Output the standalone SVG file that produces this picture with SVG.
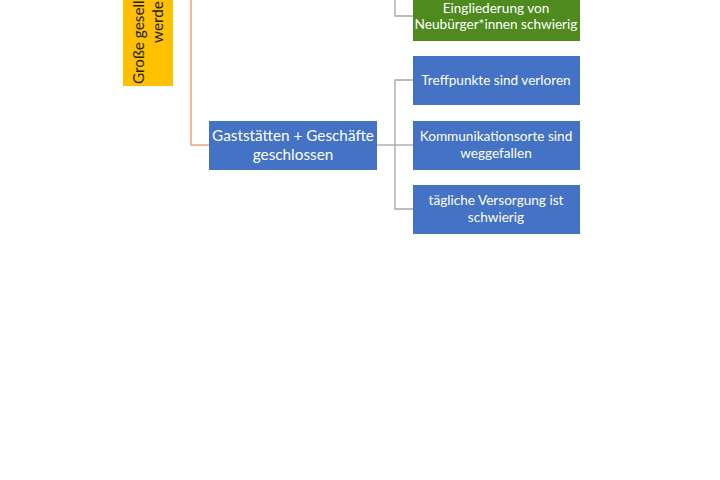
<svg xmlns="http://www.w3.org/2000/svg" width="720" height="480" viewBox="0 0 720 480">
<style>
.t{font-family:Lato,"Open Sans","Liberation Sans",sans-serif;fill:#fff;text-anchor:middle}
.s{font-size:13.6px}
.m{font-size:15.3px}
.g{stroke:#a6a6a6;stroke-width:1.3;fill:none}
.o{stroke:#f4a46e;stroke-width:1.5;fill:none}
.blue{fill:#4472c4}
</style>
<rect width="720" height="480" fill="#fff"/>
<g id="connectors">
<path class="o" d="M191,0 V145 H209"/>
<path class="g" d="M377,145 H395"/>
<path class="g" d="M395,0 V16 H413"/>
<path class="g" d="M413,80 H395 V209 H413"/>
<path class="g" d="M395,145 H413"/>
</g>
<g id="root">
<rect x="123" y="-20" width="50" height="106" fill="#ffc000"/>
<text transform="translate(144,84) rotate(-90)" font-family="Lato,'Open Sans','Liberation Sans',sans-serif" font-size="15.3" fill="#222">Große gesell</text>
<text transform="translate(163,43) rotate(-90)" font-family="Lato,'Open Sans','Liberation Sans',sans-serif" font-size="15.3" fill="#222">werde</text>
</g>
<g id="gaststaetten">
<rect class="blue" x="209" y="121" width="168" height="49"/>
<text class="t m" x="293" y="141">Gaststätten + Geschäfte</text>
<text class="t m" x="293" y="160">geschlossen</text>
</g>
<g id="eingliederung">
<rect x="413" y="-10" width="167" height="51" fill="#4e8a1e"/>
<text class="t s" x="496" y="13">Eingliederung von</text>
<text class="t s" x="496" y="29">Neubürger*innen schwierig</text>
</g>
<g id="treffpunkte">
<rect class="blue" x="413" y="56" width="167" height="49"/>
<text class="t s" x="496" y="85">Treffpunkte sind verloren</text>
</g>
<g id="kommunikation">
<rect class="blue" x="413" y="121" width="167" height="49"/>
<text class="t s" x="496" y="141">Kommunikationsorte sind</text>
<text class="t s" x="496" y="158">weggefallen</text>
</g>
<g id="versorgung">
<rect class="blue" x="413" y="185" width="167" height="49"/>
<text class="t s" x="496" y="205">tägliche Versorgung ist</text>
<text class="t s" x="496" y="222">schwierig</text>
</g>
</svg>
